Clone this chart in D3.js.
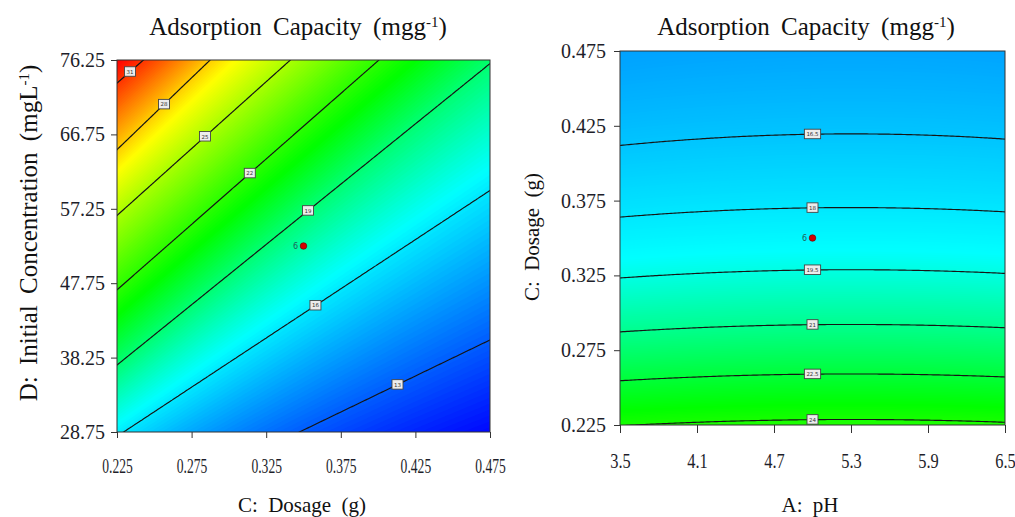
<!DOCTYPE html>
<html>
<head>
<meta charset="utf-8">
<title>Adsorption Capacity contours</title>
<script src="https://cdn.jsdelivr.net/npm/d3@7"></script>
<style>
body { margin: 0; background: #fff; }
text { font-family: "Liberation Serif", "Times New Roman", serif; fill: #111; }
.tick line { stroke: #333; }
.tick text { fill: #1e1e2a; }
.frame { fill: none; stroke: #333; stroke-width: 1; }
.cline { fill: none; stroke: #151515; stroke-width: 1.15; }
.lab rect { fill: #ececec; stroke: #444; stroke-width: 0.9; }
.lab text, .rep { font-family: "DejaVu Sans", sans-serif; }
</style>
</head>
<body>
<div id="chart"></div>
<script>
// tick values
var dosageTicks = [0.225, 0.275, 0.325, 0.375, 0.425, 0.475];
var concTicks = [28.75, 38.25, 47.75, 57.25, 66.75, 76.25];
var phTicks = [3.5, 4.1, 4.7, 5.3, 5.9, 6.5];

// left panel: each contour is a straight line, given by the concentration
// where it meets dosage 0.225 and dosage 0.475 (extended past the frame)
var leftLevels = [13, 16, 19, 22, 25, 28, 31];
var leftConcAtLowDose = [17.5, 28.2, 37.3, 46.9, 56.4, 64.8, 73.3];
var leftConcAtHighDose = [40.5, 59.6, 75.8, 88.7, 99.1, 110.7, 114.9];
var leftLabelDosage = [0.413, 0.358, 0.353, 0.314, 0.284, 0.2565, 0.2337];

// right panel: fitted profile, coded u = dosage, w = pH (0..1 over range)
var rightTerms = ["1", "u", "u2", "w", "w2"];
var rightCoef = [23.974, -12.915, 3.9, 0.72, -0.6];
var rightLevels = [16.5, 18, 19.5, 21, 22.5, 24];
var rightLabelPH = [5.0, 5.0, 5.0, 5.0, 5.0, 5.0];

// centre point of the design
var centreDosage = 0.35, centreConc = 52.5, centrePH = 5.0, centreReps = 6;

// colour ramps
var rampColors = ["#0000ff", "#00ffff", "#00ff00", "#ffff00", "#ff0000"];
var leftColorStops = [11, 16.5, 21, 27, 32];
var rightColorStops = [8, 19, 23.5, 29, 34];

function leftLineConc(k, dose) {
  var u = (dose - 0.225) / 0.25;
  return leftConcAtLowDose[k] + (leftConcAtHighDose[k] - leftConcAtLowDose[k]) * u;
}
function leftCapacity(dose, conc) {
  var n = leftLevels.length, k = 0;
  while (k < n - 2 && conc > leftLineConc(k + 1, dose)) k++;
  var c0 = leftLineConc(k, dose), c1 = leftLineConc(k + 1, dose);
  return leftLevels[k] + (conc - c0) / (c1 - c0) * (leftLevels[k + 1] - leftLevels[k]);
}
function rightCapacity(ph, dose) {
  var u = (dose - 0.225) / 0.25, w = (ph - 3.5) / 3;
  var t = [1, u, u * u, w, w * w];
  return d3.sum(t, function(d, i) { return d * rightCoef[i]; });
}

var svg = d3.select("#chart").append("svg")
  .attr("width", 1015).attr("height", 517);

var leftX = d3.scaleLinear().domain([0.225, 0.475]).range([117, 490]);
var leftY = d3.scaleLinear().domain([28.75, 76.25]).range([432, 60]);
var rightX = d3.scaleLinear().domain([3.5, 6.5]).range([620, 1005]);
var rightY = d3.scaleLinear().domain([0.225, 0.475]).range([425, 51]);

function bisect(fn, lo, hi, target, rising) {
  for (var k = 0; k < 60; k++) {
    var mid = (lo + hi) / 2;
    if ((fn(mid) < target) === rising) lo = mid; else hi = mid;
  }
  return (lo + hi) / 2;
}

function drawPanel(id, x, y, f, levels, colour) {
  var cs = 2, m = 6;
  var x0 = x.range()[0] - m, y0 = y.range()[1] - m;
  var nx = Math.ceil((x.range()[1] - x.range()[0] + 2 * m) / cs);
  var ny = Math.ceil((y.range()[0] - y.range()[1] + 2 * m) / cs);
  var values = new Array(nx * ny);
  for (var j = 0; j < ny; j++) {
    for (var i = 0; i < nx; i++) {
      values[j * nx + i] = f(x.invert(x0 + (i + 0.5) * cs), y.invert(y0 + (j + 0.5) * cs));
    }
  }
  var path = d3.geoPath(d3.geoTransform({
    point: function(a, b) { this.stream.point(x0 + a * cs, y0 + b * cs); }
  }));

  svg.append("clipPath").attr("id", id)
    .append("rect")
    .attr("x", x.range()[0]).attr("y", y.range()[1])
    .attr("width", x.range()[1] - x.range()[0])
    .attr("height", y.range()[0] - y.range()[1]);

  var g = svg.append("g").attr("clip-path", "url(#" + id + ")");

  // smooth colour fill: stacked bands
  var ext = d3.extent(values);
  var step = (ext[1] - ext[0]) / 180;
  var fillTh = d3.range(ext[0] - step, ext[1], step);
  g.append("g").selectAll("path")
    .data(d3.contours().size([nx, ny]).thresholds(fillTh)(values))
    .join("path")
      .attr("d", path)
      .attr("fill", function(d) { return colour(d.value + step / 2); });

  // contour lines
  g.append("g").selectAll("path")
    .data(d3.contours().size([nx, ny]).thresholds(levels)(values))
    .join("path")
      .attr("class", "cline")
      .attr("d", path);

  svg.append("rect").attr("class", "frame")
    .attr("x", x.range()[0]).attr("y", y.range()[1])
    .attr("width", x.range()[1] - x.range()[0])
    .attr("height", y.range()[0] - y.range()[1]);
}

function ramp(stops) {
  return d3.scaleLinear().domain(stops).range(rampColors).clamp(true);
}

// ---- left: dosage vs initial concentration ----
drawPanel("clipL", leftX, leftY, leftCapacity, leftLevels, ramp(leftColorStops));

// ---- right: pH vs dosage ----
drawPanel("clipR", rightX, rightY, rightCapacity, rightLevels, ramp(rightColorStops));

// contour flags
function flag(px, py, txt) {
  var g = svg.append("g").attr("class", "lab").attr("transform", "translate(" + px + "," + py + ")");
  var r = g.append("rect");
  var t = g.append("text").attr("text-anchor", "middle").attr("y", 2)
    .style("font-size", "5.5px").style("fill", "#333")
    .text(txt);
  var w = Math.max(11, t.node().getComputedTextLength() + 4);
  r.attr("x", -w / 2).attr("y", -5).attr("width", w).attr("height", 9.5);
}
leftLevels.forEach(function(L, i) {
  var d = leftLabelDosage[i];
  flag(leftX(d), leftY(leftLineConc(i, d)), L);
});
rightLevels.forEach(function(L, i) {
  var p = rightLabelPH[i];
  var d = bisect(function(d) { return rightCapacity(p, d); }, 0.2, 0.5, L, false);
  flag(rightX(p), rightY(d), L);
});

// centre points
[[leftX(centreDosage), leftY(centreConc)], [rightX(centrePH), rightY(centreDosage)]].forEach(function(pt) {
  svg.append("circle").attr("cx", pt[0]).attr("cy", pt[1]).attr("r", 3.3)
    .attr("fill", "#d40000").attr("stroke", "#600").attr("stroke-width", 0.6);
  svg.append("text").attr("class", "rep").attr("x", pt[0] - 8).attr("y", pt[1] + 3)
    .attr("text-anchor", "middle")
    .style("font-size", "8px").style("fill", "#1f5f5a").text(centreReps);
});

// axes
function styleAxis(g, sx) {
  g.attr("font-family", "Liberation Serif").attr("font-size", 20);
  g.select(".domain").remove();
  if (sx) g.selectAll(".tick text").attr("transform", "scale(" + sx + ",1)");
}
svg.append("g").attr("transform", "translate(" + leftX.range()[0] + ",0)")
  .call(d3.axisLeft(leftY).tickValues(concTicks).tickSize(6).tickPadding(6).tickFormat(d3.format(".2f")))
  .call(styleAxis);
svg.append("g").attr("transform", "translate(0," + leftY.range()[0] + ")")
  .call(d3.axisBottom(leftX).tickValues(dosageTicks).tickSize(6).tickPadding(21).tickFormat(d3.format(".3f")))
  .call(function(g) { styleAxis(g, 0.68); });
svg.append("g").attr("transform", "translate(" + rightX.range()[0] + ",0)")
  .call(d3.axisLeft(rightY).tickValues(dosageTicks).tickSize(6).tickPadding(8).tickFormat(d3.format(".3f")))
  .call(styleAxis);
svg.append("g").attr("transform", "translate(0," + rightY.range()[0] + ")")
  .call(d3.axisBottom(rightX).tickValues(phTicks).tickSize(8).tickPadding(21).tickFormat(d3.format(".1f")))
  .call(function(g) { styleAxis(g, 0.82); });

// titles
function title(x, y, rot, size, parts) {
  var t = svg.append("text")
    .attr("transform", "translate(" + x + "," + y + ") rotate(" + rot + ")")
    .attr("text-anchor", "middle")
    .style("font-size", size + "px").style("word-spacing", "5px");
  parts.forEach(function(p) {
    var s = t.append("tspan").text(p[0]);
    if (p[1]) s.attr("baseline-shift", "super").style("font-size", Math.round(size * 0.6) + "px");
  });
  return t;
}
title(298, 35, 0, 25, [["Adsorption Capacity (mgg"], ["-1", true], [")"]]);
title(806, 35, 0, 25, [["Adsorption Capacity (mgg"], ["-1", true], [")"]]);
title(37, 233, -90, 25, [["D: Initial Concentration (mgL"], ["-1", true], [")"]]);
title(539, 237, -90, 21, [["C: Dosage (g)"]]);
title(302, 512, 0, 21, [["C: Dosage (g)"]]);
title(810, 512, 0, 21, [["A: pH"]]);
</script>
</body>
</html>
